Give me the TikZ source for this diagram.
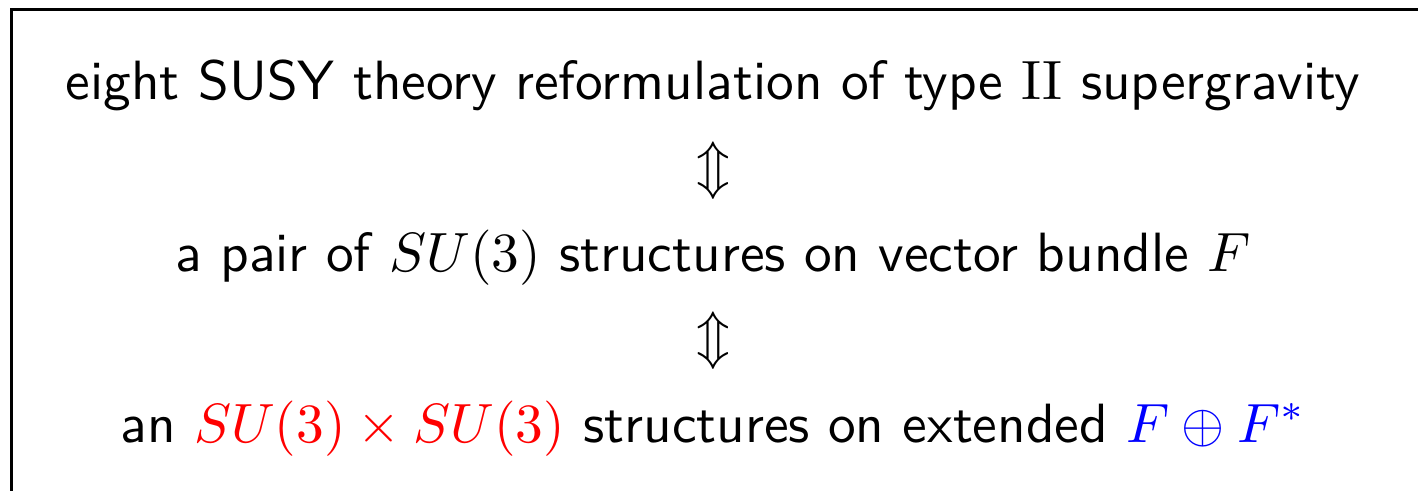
\documentclass[tikz,border=0pt]{standalone}
\usetikzlibrary{positioning}
\tikzset{
  every picture/.style={font=\sffamily},
  line/.style={anchor=base, inner sep=0pt},
  equiv/.style={anchor=center, inner sep=0pt},
  frame/.style={draw, line width=0.5pt},
}
\begin{document}
\begin{tikzpicture}[x=1pt, y=1pt]
  \useasboundingbox (0,0) rectangle (256.3,-88.57);
  % frame, cut off at the right and bottom
  \draw[frame] (2.05,-1.7) rectangle (270,-110);
  % the three equivalent statements
  \node[line] (sugra) at (128.9,-18.07) {eight SUSY theory reformulation of type $\mathrm{II}$ supergravity};
  \node[line] (pair) at (128.9,-49.16) {a pair of $SU(3)$ structures on vector bundle $F$};
  \node[line] (ext) at (128.9,-79.89) {an \textcolor{red}{$SU(3)\times SU(3)$} structures on extended \textcolor{blue}{$F\oplus F^*$}};
  \node[equiv] (eq1) at (128.9,-30.8) {$\Updownarrow$};
  \node[equiv] (eq2) at (128.9,-61.5) {$\Updownarrow$};
\end{tikzpicture}
\end{document}
